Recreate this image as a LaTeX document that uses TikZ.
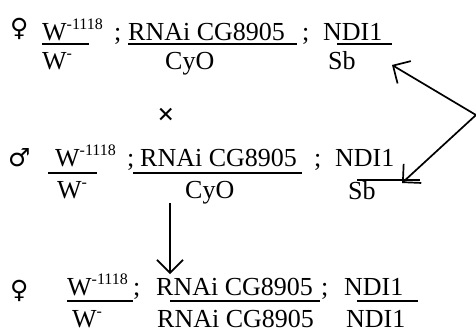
\documentclass[tikz,border=0pt]{standalone}
\usepackage{fontspec}
\setmainfont{Liberation Serif}
\newfontfamily\symfont{DejaVu Sans}
\usetikzlibrary{arrows.meta}
\newcommand\mysup[1]{\raisebox{0.42em}{\fontsize{16}{16}\selectfont #1}}
\tikzset{
  txt/.style={anchor=base west, inner sep=0pt, font=\fontsize{26}{30}\selectfont},
  sym/.style={anchor=base west, inner sep=0pt, font=\symfont\fontsize{25}{28}\selectfont},
  fbar/.style={line width=1.4pt},
  arr/.style={line width=1.7pt, -{Straight Barb[length=13pt,width=26pt,line width=1.7pt]}},
}
\begin{document}
\begin{tikzpicture}[x=1pt,y=-1pt]
\useasboundingbox (0,0) rectangle (476,332);
% Row 1 (female)
\node[sym] (f1) at (10,36) {♀};
\node[txt] (w1n) at (42,40) {W\mysup{-1118}};
\node[txt] (w1d) at (42,69) {W\mysup{-}};
\node[txt] (s1a) at (114,40) {;};
\node[txt] (r1n) at (128,40) {RNAi CG8905};
\node[txt] (r1d) at (165,69) {CyO};
\node[txt] (s1b) at (302,40) {;};
\node[txt] (n1n) at (323,40) {NDI1};
\node[txt] (n1d) at (328,69) {Sb};
\coordinate (b1a) at (42,44); \coordinate (b1b) at (89,44);
\coordinate (b1c) at (128,44); \coordinate (b1d) at (297,44);
\coordinate (b1e) at (337,44); \coordinate (b1f) at (392,44);
\draw[fbar] (b1a) -- (b1b);
\draw[fbar] (b1c) -- (b1d);
\draw[fbar] (b1e) -- (b1f);
% cross
\node[inner sep=0pt, font=\bfseries\fontsize{30}{30}\selectfont] (x) at (166,116) {×};
% Row 2 (male)
\node[sym] (m2) at (8,166) {♂};
\node[txt] (w2n) at (55,166) {W\mysup{-1118}};
\node[txt] (w2d) at (57,198) {W\mysup{-}};
\node[txt] (s2a) at (127,166) {;};
\node[txt] (r2n) at (140,166) {RNAi CG8905};
\node[txt] (r2d) at (185,198) {CyO};
\node[txt] (s2b) at (314,166) {;};
\node[txt] (n2n) at (335,166) {NDI1};
\node[txt] (n2d) at (348,199) {Sb};
\coordinate (b2a) at (48,173); \coordinate (b2b) at (97,173);
\coordinate (b2c) at (133,173); \coordinate (b2d) at (302,173);
\coordinate (b2e) at (357,180); \coordinate (b2f) at (420,180);
\draw[fbar] (b2a) -- (b2b);
\draw[fbar] (b2c) -- (b2d);
\draw[fbar] (b2e) -- (b2f);
% Row 3 (female offspring)
\node[sym] (f3) at (10,298) {♀};
\node[txt] (w3n) at (67,295) {W\mysup{-1118}};
\node[txt] (w3d) at (72,327) {W\mysup{-}};
\node[txt] (s3a) at (133,295) {;};
\node[txt] (r3n) at (156,295) {RNAi CG8905};
\node[txt] (r3d) at (157,327) {RNAi CG8905};
\node[txt] (s3b) at (321,295) {;};
\node[txt] (n3n) at (344,295) {NDI1};
\node[txt] (n3d) at (346,327) {NDI1};
\coordinate (b3a) at (67,301); \coordinate (b3b) at (133,301);
\coordinate (b3c) at (170,301); \coordinate (b3d) at (320,301);
\coordinate (b3e) at (357,301); \coordinate (b3f) at (418,301);
\draw[fbar] (b3a) -- (b3b);
\draw[fbar] (b3c) -- (b3d);
\draw[fbar] (b3e) -- (b3f);
% arrows
\coordinate (bend) at (476,115);
\coordinate (tipA) at (392,65);
\coordinate (tipB) at (402,183);
\coordinate (vS) at (170,203);
\coordinate (vE) at (170,274);
\draw[arr] (bend) -- (tipA);
\draw[arr] (bend) -- (tipB);
\draw[arr] (vS) -- (vE);
\end{tikzpicture}
\end{document}
